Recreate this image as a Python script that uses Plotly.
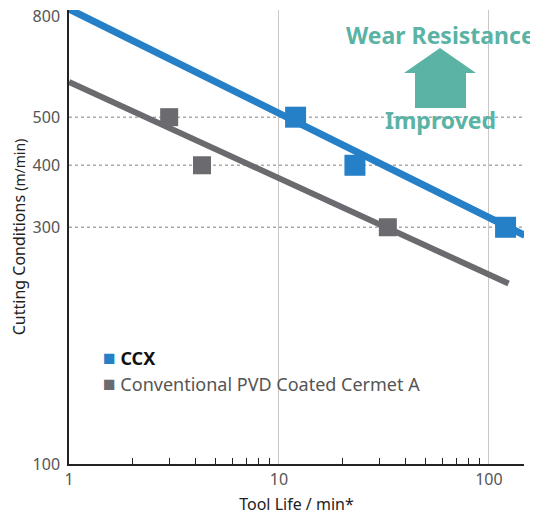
import plotly.graph_objects as go

# ---- data ----
ccx_life = [12, 23, 120]
ccx_speed = [500, 400, 300]
conv_life = [3, 4.3, 33]
conv_speed = [500, 400, 300]

ccx_fit_life = [1, 148]
ccx_fit_speed = [826, 289]
conv_fit_life = [1, 124]
conv_fit_speed = [589, 231]

ref_levels = [500, 400, 300]
x_tick_vals = [1, 10, 100]
x_minor_vals = [2, 3, 4, 5, 6, 7, 8, 9, 20, 30, 40, 50, 60, 70, 80, 90]
y_tick_vals = [100, 300, 400, 500, 800]
legend_names = ["CCX", "Conventional PVD Coated Cermet A"]

BLUE = "#2580C7"
GRAY = "#6A6A6F"
TEAL = "#5AB3A5"
FONT = "Noto Sans"

fig = go.Figure()

# dotted reference lines
for lv in ref_levels:
    fig.add_trace(go.Scatter(x=[1, 160], y=[lv, lv], mode="lines",
                             line=dict(color="#AAAAAA", width=1.5, dash="dot"),
                             showlegend=False, hoverinfo="skip"))

# fit lines
fig.add_trace(go.Scatter(x=conv_fit_life, y=conv_fit_speed, mode="lines",
                         line=dict(color=GRAY, width=6), showlegend=False))
fig.add_trace(go.Scatter(x=ccx_fit_life, y=ccx_fit_speed, mode="lines",
                         line=dict(color=BLUE, width=7), showlegend=False))

# markers
fig.add_trace(go.Scatter(x=ccx_life, y=ccx_speed, mode="markers",
                         marker=dict(symbol="square", size=21, color=BLUE),
                         name=legend_names[0], showlegend=False))
fig.add_trace(go.Scatter(x=conv_life, y=conv_speed, mode="markers",
                         marker=dict(symbol="square", size=18, color=GRAY),
                         name=legend_names[1], showlegend=False))

OFF = 8  # page body margin
L, R, T, B = 69 - OFF, 14, 10 - OFF, 53
W, H = 538 - OFF, 517 - OFF
PW, PH = W - L - R, H - T - B

def px(xp):
    return (xp - OFF - L) / PW

def py(yp):
    return (H - B - (yp - OFF)) / PH

# arrow
arrow = [(440, 48), (476, 73), (466, 73), (466, 108), (415, 108), (415, 73), (404, 73)]
path = "M " + " L ".join(f"{px(a):.4f},{py(b):.4f}" for a, b in arrow) + " Z"
fig.add_shape(type="path", path=path, xref="paper", yref="paper",
              fillcolor=TEAL, line=dict(width=0))

fig.add_annotation(text="<b>Wear Resistance</b>", xref="paper", yref="paper",
                   x=px(440), y=py(35), xanchor="center", yanchor="middle",
                   showarrow=False,
                   font=dict(family=FONT, size=23, color=TEAL))
fig.add_annotation(text="<b>Improved</b>", xref="paper", yref="paper",
                   x=px(440), y=py(120), xanchor="center", yanchor="middle",
                   showarrow=False,
                   font=dict(family=FONT, size=23, color=TEAL))

# legend (manual)
fig.add_annotation(text=f"<span style='color:{BLUE};font-size:21px'>■</span> <b><span style='color:#111'>{legend_names[0]}</span></b>",
                   xref="paper", yref="paper", x=px(101), y=py(357),
                   xanchor="left", yanchor="middle", showarrow=False,
                   font=dict(family=FONT, size=18, color="#555555"))
fig.add_annotation(text=f"<span style='color:{GRAY};font-size:21px'>■</span> {legend_names[1]}",
                   xref="paper", yref="paper", x=px(101), y=py(383),
                   xanchor="left", yanchor="middle", showarrow=False,
                   font=dict(family=FONT, size=18, color="#555555"))

fig.update_layout(
    width=W, height=H,
    margin=dict(l=L, r=R, t=T, b=B, autoexpand=False),
    paper_bgcolor="white", plot_bgcolor="white",
    font=dict(family=FONT, color="#555555", size=16),
    showlegend=False,
    xaxis=dict(type="log", range=[0, 2.167], tickvals=x_tick_vals,
               ticktext=[str(v) for v in x_tick_vals], automargin=False,
               showgrid=True, gridcolor="#C8C8C8", gridwidth=1.2,
               showline=True, linecolor="#222222", linewidth=1.5,
               ticks="", zeroline=False, ticklabeloverflow="allow",
               minor=dict(tickvals=x_minor_vals, ticks="inside", ticklen=6,
                          tickcolor="#222222", tickwidth=1.2, showgrid=False),
               title=dict(text="Tool Life / min*", font=dict(size=16, color="#222222"),
                          standoff=10),
               tickfont=dict(size=16, color="#555555")),
    yaxis=dict(type="log", range=[2, 2.915], tickvals=y_tick_vals,
               ticktext=[str(v) for v in y_tick_vals], automargin=False,
               showgrid=False, showline=True, linecolor="#222222", linewidth=1.5,
               ticks="", zeroline=False, ticklabelstandoff=4,
               ticklabeloverflow="allow",
               title=dict(text="Cutting Conditions <span style='font-size:14px'>(m/min)</span>",
                          font=dict(size=16, color="#222222"), standoff=12),
               tickfont=dict(size=16, color="#555555")),
)

fig.write_html("out.html")
